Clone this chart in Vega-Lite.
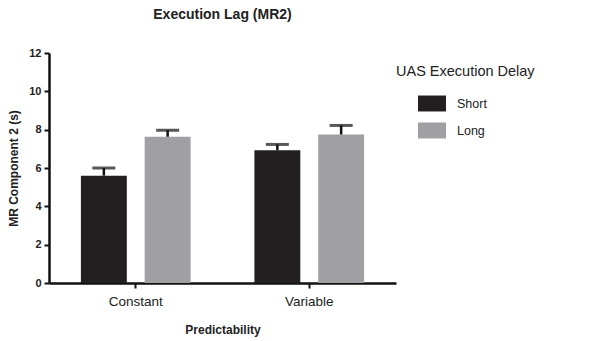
{
  "$schema": "https://vega.github.io/schema/vega-lite/v6.json",
  "autosize": "none",
  "padding": {"left": 49, "top": 53, "right": 205, "bottom": 58},
  "width": 347,
  "height": 230,
  "background": "white",
  "config": {
    "font": "Liberation Sans",
    "view": {"stroke": null},
    "axis": {"domainColor": "#111", "tickColor": "#111", "labelColor": "#222", "titleColor": "#222", "grid": false},
    "axisY": {
      "labelOverlap": false,
      "labelFontSize": 11,
      "labelFontWeight": "bold",
      "labelPadding": 3,
      "titleFontSize": 12,
      "titleFontWeight": "bold",
      "titlePadding": 8,
      "domainWidth": 2.5,
      "tickWidth": 2,
      "tickSize": 5
    }
  },
  "title": {
    "text": "Execution Lag (MR2)",
    "fontSize": 14,
    "fontWeight": "bold",
    "color": "#222",
    "anchor": "middle",
    "offset": 25
  },
  "data": {
    "values": [
      {"predictability": "Constant", "delay": "Short", "mean": 5.6, "upper": 6.0},
      {"predictability": "Constant", "delay": "Long", "mean": 7.63, "upper": 7.97},
      {"predictability": "Variable", "delay": "Short", "mean": 6.92, "upper": 7.23},
      {"predictability": "Variable", "delay": "Long", "mean": 7.75, "upper": 8.22}
    ]
  },
  "encoding": {
    "x": {
      "field": "predictability",
      "type": "nominal",
      "sort": ["Constant", "Variable"],
      "scale": {"paddingInner": 0, "paddingOuter": 0},
      "axis": {
        "title": "Predictability",
        "labelAngle": 0,
        "labelFontSize": 13.5,
        "labelPadding": 6,
        "titleFontSize": 12,
        "titleFontWeight": "bold",
        "titlePadding": 17,
        "domainWidth": 2.5,
        "tickWidth": 2,
        "tickSize": 5
      }
    },
    "xOffset": {
      "field": "delay",
      "type": "nominal",
      "sort": ["Short", "Long"],
      "scale": {"paddingInner": 0.28, "paddingOuter": 0.5}
    }
  },
  "layer": [
    {
      "mark": {"type": "bar"},
      "encoding": {
        "y": {
          "field": "mean",
          "type": "quantitative",
          "scale": {"domain": [0, 12]},
          "axis": {"title": "MR Component 2 (s)", "values": [0, 2, 4, 6, 8, 10, 12]}
        },
        "color": {
          "field": "delay",
          "type": "nominal",
          "sort": ["Short", "Long"],
          "scale": {"domain": ["Short", "Long"], "range": ["#231f20", "#a09fa3"]},
          "legend": {
            "title": "UAS Execution Delay",
            "orient": "none",
            "legendX": 347,
            "legendY": 12,
            "titleFontSize": 14.5,
            "titleFontWeight": "normal",
            "titleColor": "#222",
            "titlePadding": 10,
            "labelFontSize": 12.5,
            "labelColor": "#222",
            "labelOffset": 11,
            "symbolType": "M-1,-0.57H1V0.57H-1Z",
            "symbolSize": 784,
            "symbolStrokeWidth": 0,
            "symbolOffset": 22,
            "symbolOpacity": 1,
            "rowPadding": 5
          }
        }
      }
    },
    {
      "mark": {"type": "rule", "color": "#111", "strokeWidth": 2.5},
      "encoding": {
        "y": {"field": "mean", "type": "quantitative", "axis": {"title": "MR Component 2 (s)", "values": [0, 2, 4, 6, 8, 10, 12]}},
        "y2": {"field": "upper"}
      }
    },
    {
      "mark": {"type": "tick", "color": "#111", "thickness": 3, "size": 23},
      "encoding": {
        "y": {"field": "upper", "type": "quantitative", "axis": {"title": "MR Component 2 (s)", "values": [0, 2, 4, 6, 8, 10, 12]}}
      }
    }
  ]
}
